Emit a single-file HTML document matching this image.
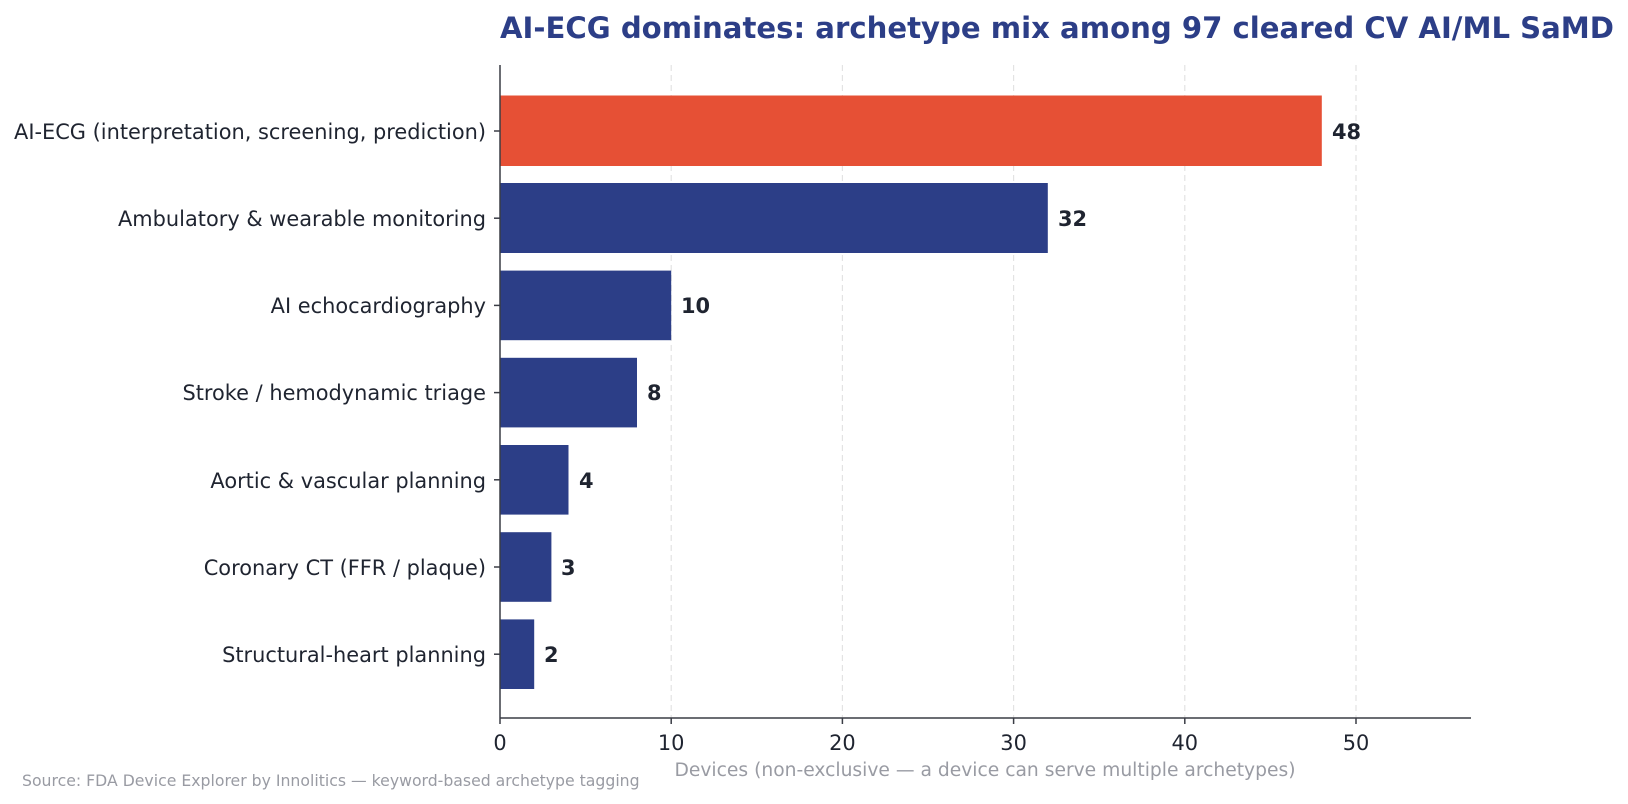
<!DOCTYPE html>
<html><head><meta charset="utf-8"><style>body{margin:0;background:#fff}svg{display:block}text{font-family:"DejaVu Sans","Liberation Sans",sans-serif}</style></head>
<body>
<svg width="1628" height="804" viewBox="0 0 1628 804">
<g stroke="#e3e3e3" stroke-width="1.2" stroke-dasharray="6,4">
<line x1="671.2" y1="65" x2="671.2" y2="718"/><line x1="842.4" y1="65" x2="842.4" y2="718"/><line x1="1013.6" y1="65" x2="1013.6" y2="718"/><line x1="1184.8" y1="65" x2="1184.8" y2="718"/><line x1="1356" y1="65" x2="1356" y2="718"/>
</g>
<g fill="#2c3e87">
<rect x="500" y="95.5" width="821.8" height="70.5" fill="#e65035"/>
<rect x="500" y="183" width="547.8" height="70"/>
<rect x="500" y="270.6" width="171.2" height="69.6"/>
<rect x="500" y="357.8" width="137" height="69.6"/>
<rect x="500" y="445" width="68.5" height="69.6"/>
<rect x="500" y="532.2" width="51.4" height="69.6"/>
<rect x="500" y="619.4" width="34.2" height="69.6"/>
</g>
<g stroke="#3a3d45" stroke-width="1.5">
<line x1="500" y1="65" x2="500" y2="718"/><line x1="500" y1="718" x2="1471" y2="718"/>
<line x1="494" y1="131" x2="500" y2="131"/><line x1="494" y1="218.2" x2="500" y2="218.2"/><line x1="494" y1="305.4" x2="500" y2="305.4"/><line x1="494" y1="392.6" x2="500" y2="392.6"/><line x1="494" y1="479.8" x2="500" y2="479.8"/><line x1="494" y1="567" x2="500" y2="567"/><line x1="494" y1="654.2" x2="500" y2="654.2"/>
<line x1="500" y1="718" x2="500" y2="724"/><line x1="671.2" y1="718" x2="671.2" y2="724"/><line x1="842.4" y1="718" x2="842.4" y2="724"/><line x1="1013.6" y1="718" x2="1013.6" y2="724"/><line x1="1184.8" y1="718" x2="1184.8" y2="724"/><line x1="1356" y1="718" x2="1356" y2="724"/>
</g>
<g font-size="20.9" fill="#1f2430" text-anchor="end">
<text x="486" y="139">AI-ECG (interpretation, screening, prediction)</text>
<text x="486" y="226">Ambulatory &amp; wearable monitoring</text>
<text x="486" y="313">AI echocardiography</text>
<text x="486" y="400">Stroke / hemodynamic triage</text>
<text x="486" y="488">Aortic &amp; vascular planning</text>
<text x="486" y="575">Coronary CT (FFR / plaque)</text>
<text x="486" y="662">Structural-heart planning</text>
</g>
<g font-size="20.9" fill="#1f2430" text-anchor="middle">
<text x="500" y="750">0</text><text x="671.2" y="750">10</text><text x="842.4" y="750">20</text><text x="1013.6" y="750">30</text><text x="1184.8" y="750">40</text><text x="1356" y="750">50</text>
</g>
<g font-size="20.9" font-weight="bold" fill="#1f2430">
<text x="1332" y="139">48</text><text x="1058" y="226">32</text><text x="681" y="313">10</text><text x="647" y="400">8</text><text x="579" y="488">4</text><text x="561" y="575">3</text><text x="544" y="662">2</text>
</g>
<text x="500" y="38" font-size="29.2" font-weight="bold" fill="#2c3e87" textLength="1114" lengthAdjust="spacingAndGlyphs">AI-ECG dominates: archetype mix among 97 cleared CV AI/ML SaMD</text>
<text x="985" y="776" font-size="18.7" fill="#999ba3" text-anchor="middle">Devices (non-exclusive — a device can serve multiple archetypes)</text>
<text x="22" y="786" font-size="15.7" fill="#999ba3">Source: FDA Device Explorer by Innolitics — keyword-based archetype tagging</text>
</svg>
</body></html>
